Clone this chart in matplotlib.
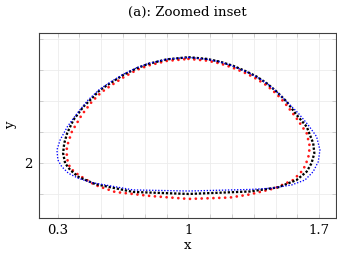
import matplotlib
matplotlib.use("Agg")
import matplotlib.pyplot as plt
import numpy as np

# curve outlines (closed loops)
black_x = [1.0, 1.098, 1.169, 1.240, 1.312, 1.365, 1.419, 1.472, 1.526, 1.579, 1.633, 1.668, 1.674,
           1.659, 1.633, 1.579, 1.481, 1.329, 1.0, 0.704, 0.500, 0.411, 0.367, 0.340, 0.329, 0.335,
           0.351, 0.384, 0.438, 0.474, 0.527, 0.581, 0.652, 0.724, 0.786, 0.884, 1.0]
black_y = [2.684, 2.673, 2.655, 2.628, 2.591, 2.559, 2.516, 2.462, 2.397, 2.312, 2.236, 2.129, 2.065,
           2.0, 1.946, 1.892, 1.845, 1.818, 1.802, 1.815, 1.866, 1.912, 1.957, 2.0, 2.065, 2.129,
           2.195, 2.279, 2.365, 2.408, 2.473, 2.516, 2.570, 2.613, 2.641, 2.670, 2.684]

blue_x = [1.0, 1.098, 1.169, 1.240, 1.312, 1.365, 1.419, 1.472, 1.517, 1.588, 1.641, 1.686, 1.704,
          1.695, 1.668, 1.624, 1.552, 1.445, 1.329, 1.0, 0.704, 0.483, 0.411, 0.358, 0.322, 0.301,
          0.296, 0.313, 0.352, 0.405, 0.463, 0.524, 0.579, 0.650, 0.722, 0.785, 0.884, 1.0]
blue_y = [2.683, 2.671, 2.654, 2.626, 2.589, 2.557, 2.515, 2.463, 2.408, 2.323, 2.247, 2.172, 2.086,
          2.010, 1.946, 1.892, 1.860, 1.839, 1.831, 1.821, 1.828, 1.875, 1.903, 1.935, 1.978, 2.021,
          2.086, 2.150, 2.236, 2.323, 2.408, 2.476, 2.521, 2.573, 2.615, 2.643, 2.671, 2.683]

red_x = [1.0, 1.098, 1.169, 1.240, 1.312, 1.365, 1.419, 1.472, 1.517, 1.579, 1.633, 1.650, 1.641,
         1.614, 1.561, 1.463, 1.329, 1.222, 1.0, 0.795, 0.607, 0.500, 0.411, 0.367, 0.349, 0.349,
         0.376, 0.429, 0.483, 0.533, 0.586, 0.656, 0.725, 0.787, 0.884, 1.0]
red_y = [2.673, 2.662, 2.644, 2.615, 2.578, 2.544, 2.502, 2.447, 2.387, 2.290, 2.194, 2.107, 2.032,
         1.957, 1.892, 1.839, 1.799, 1.779, 1.770, 1.789, 1.815, 1.860, 1.925, 1.968, 2.032, 2.107,
         2.204, 2.312, 2.397, 2.457, 2.502, 2.557, 2.603, 2.631, 2.660, 2.673]

x_ticks = [0.3, 1.0, 1.7]
x_tick_labels = ["0.3", "1", "1.7"]
y_ticks = [2.0]
y_tick_labels = ["2"]

plt.rcParams['font.family'] = ['DejaVu Serif']

fig = plt.figure(figsize=(3.37, 2.57), dpi=100)
ax = fig.add_axes([39 / 337, 1 - 218 / 257, 297 / 337, 185 / 257])

ax.plot(red_x, red_y, color='#ff1a1a', lw=2.0, linestyle=(0, (0.01, 2.1)),
        dash_capstyle='round', zorder=3)
ax.plot(black_x, black_y, color='#000000', lw=1.65, linestyle=(0, (1, 0.8)),
        dash_capstyle='butt', zorder=4)
ax.plot(blue_x, blue_y, color='#0000ff', lw=0.95, linestyle=(0, (1, 1.3)),
        dash_capstyle='butt', zorder=5)

ax.set_xlim(0.2, 1.79)
ax.set_ylim(1.647, 2.84)

ax.set_xticks(x_ticks)
ax.set_xticklabels(x_tick_labels)
ax.set_xticks(np.arange(0.3 - 0.7 / 6, 1.8, 0.7 / 6)[1:], minor=True)
ax.set_yticks(y_ticks)
ax.set_yticklabels(y_tick_labels)
ax.set_yticks([1.8, 2.2, 2.4, 2.6, 2.8], minor=True)

ax.grid(True, which='both', color='#ececec', lw=0.6, zorder=0)
ax.set_axisbelow(True)
ax.tick_params(which='both', direction='in', length=3, width=0.6, color='#c8c8c8',
               top=True, right=True, labelsize=9.5, pad=4)
ax.tick_params(axis='y', pad=5)

for s in ax.spines.values():
    s.set_color('#404040')
    s.set_linewidth(0.8)

ax.set_xlabel('x', fontsize=9.5, labelpad=2)
ax.set_ylabel('y', fontsize=9.5, labelpad=5)
fig.text(187.5 / 337, 1 - 12 / 257, '(a): Zoomed inset', ha='center', va='center', fontsize=9.6)

fig.savefig('out.png', dpi=100)
